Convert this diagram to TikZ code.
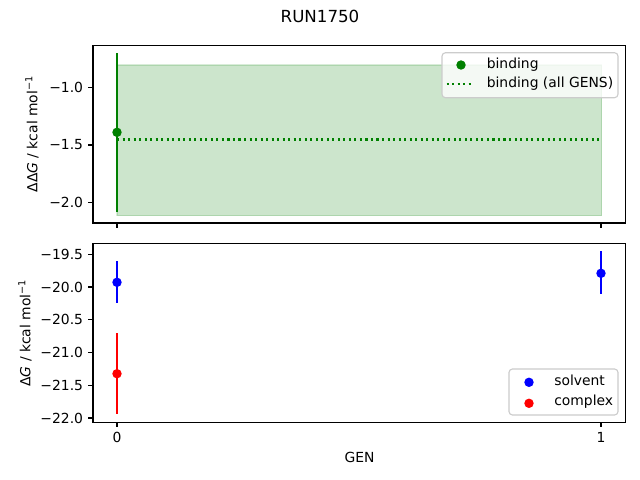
\documentclass[tikz,border=0pt]{standalone}
\usepackage{fontspec}
\setmainfont{DejaVu Sans}
\definecolor{mplgreen}{RGB}{0,128,0}
\definecolor{mplblue}{RGB}{0,0,255}
\definecolor{mplred}{RGB}{255,0,0}
\definecolor{legedge}{RGB}{204,204,204}
\begin{document}
\begin{tikzpicture}[x=0.72pt,y=-0.72pt,
  lbl/.style={font=\fontsize{10}{12}\selectfont, inner sep=0pt, text=black},
  ticklbl/.style={lbl, anchor=east},
  spine/.style={draw=black, line width=0.8pt},
  tickmark/.style={draw=black, line width=0.8pt},
  ebar/.style={line width=1.5pt},
  dot/.style={circle, inner sep=0pt, minimum size=6.8pt},
  legbox/.style={draw=legedge, fill=white, fill opacity=0.8, line width=0.8pt, rounded corners=2.5pt},
  dotline/.style={line width=1.5pt, dash pattern=on 1.5pt off 2.475pt}
]
\useasboundingbox (0,0) rectangle (640,480);
\fill[white] (0,0) rectangle (640,480);

% Title
\node[lbl, font=\fontsize{12}{14}\selectfont] (title) at (320,16) {RUN1750};

% ---------- Top axes ----------
\fill[mplgreen, fill opacity=0.2] (117,65) rectangle (601.5,215.5);
\draw[mplgreen, opacity=0.15, line width=1pt] (117,65) rectangle (601.5,215.5);
\draw[mplgreen, dotline] (117,139.5) -- (601,139.5);
\draw[mplgreen, ebar] (117,53.3) -- (117,211.7);
\node[dot, fill=mplgreen] (bind0) at (117,132.3) {};
\draw[spine] (93,45.3) rectangle (625.7,223);
% y ticks
\foreach \yy/\tl in {87.3/{−1.0},145/{−1.5},202.3/{−2.0}}{
  \draw[tickmark] (93,\yy) -- (88.1,\yy);
  \node[ticklbl] at (83.3,\yy) {\tl};
}
% x ticks (no labels)
\draw[tickmark] (117,223) -- (117,227.9);
\draw[tickmark] (601,223) -- (601,227.9);
% y label
\node[lbl, rotate=90] (ylab1) at (32,134) {ΔΔ\textit{G} / kcal mol\textsuperscript{−1}};
% legend
\draw[legbox] (442,52.7) rectangle (618,97.7);
\node[dot, fill=mplgreen] (legbind) at (461,65) {};
\node[lbl, anchor=west] (legbindt) at (486.5,64.5) {binding};
\coordinate (lda) at (446.5,84);
\coordinate (ldb) at (471,84);
\draw[mplgreen, dotline] (lda) -- (ldb);
\node[lbl, anchor=west] (legallt) at (486.5,84) {binding (all GENS)};

% ---------- Bottom axes ----------
\draw[mplblue, ebar] (117,261) -- (117,302.7);
\node[dot, fill=mplblue] (solv0) at (117,282.3) {};
\draw[mplblue, ebar] (601,251) -- (601,294.3);
\node[dot, fill=mplblue] (solv1) at (601,273.3) {};
\draw[mplred, ebar] (117,333.3) -- (117,413.7);
\node[dot, fill=mplred] (cplx0) at (117,373.7) {};
\draw[spine] (93,243.5) rectangle (625.7,422.3);
\foreach \yy/\tl in {254.3/{−19.5},287/{−20.0},319.7/{−20.5},352.5/{−21.0},385.2/{−21.5},418/{−22.0}}{
  \draw[tickmark] (93,\yy) -- (88.1,\yy);
  \node[ticklbl] at (83.3,\yy) {\tl};
}
\draw[tickmark] (117,422.3) -- (117,427.2);
\draw[tickmark] (601,422.3) -- (601,427.2);
\node[lbl] (xt0) at (117,437.5) {0};
\node[lbl] (xt1) at (601,437.5) {1};
\node[lbl] (xlab) at (359.5,457.3) {GEN};
\node[lbl, rotate=90] (ylab2) at (25,333) {Δ\textit{G} / kcal mol\textsuperscript{−1}};
% legend
\draw[legbox] (509,369) rectangle (618,415);
\node[dot, fill=mplblue] (legsolv) at (529,382.3) {};
\node[lbl, anchor=west] (legsolvt) at (554,380.5) {solvent};
\node[dot, fill=mplred] (legcplx) at (529,403.3) {};
\node[lbl, anchor=west] (legcplxt) at (554,401.5) {complex};
\end{tikzpicture}
\end{document}
